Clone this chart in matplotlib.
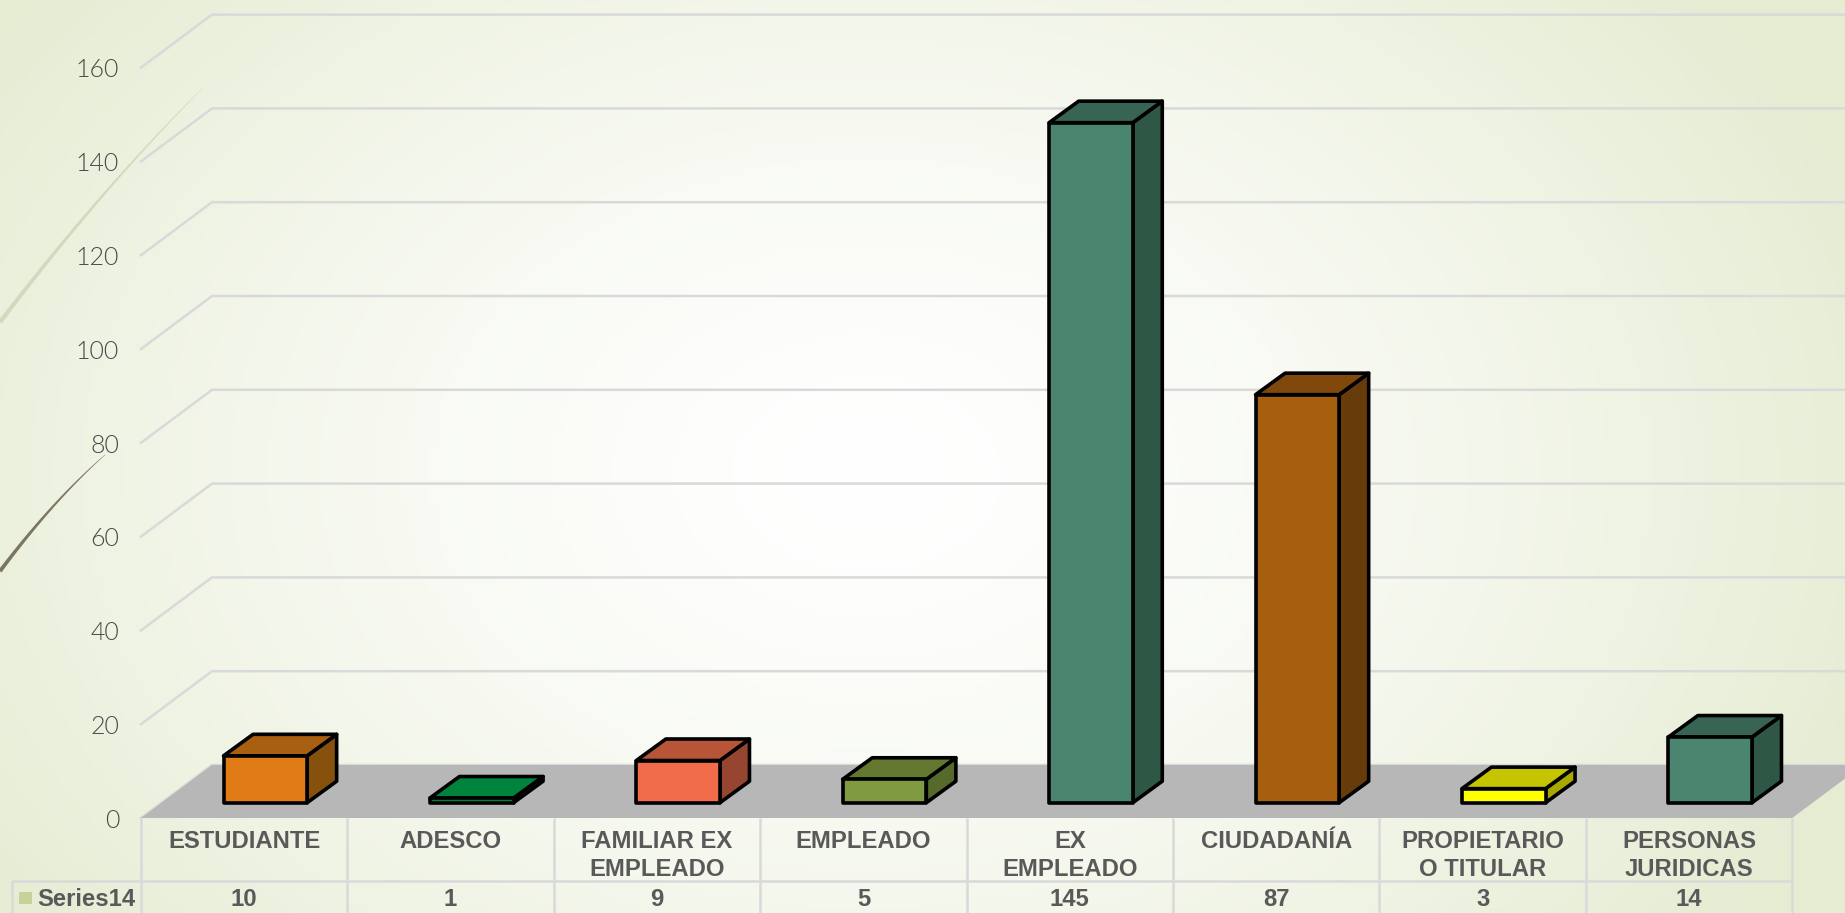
import matplotlib
matplotlib.use("Agg")
import matplotlib.pyplot as plt
import numpy as np

categories = ["ESTUDIANTE", "ADESCO", "FAMILIAR EX\nEMPLEADO", "EMPLEADO", "EX\nEMPLEADO",
              "CIUDADANÍA", "PROPIETARIO\nO TITULAR", "PERSONAS\nJURIDICAS"]
values = [10, 1, 9, 5, 145, 87, 3, 14]
y_ticks = [0, 20, 40, 60, 80, 100, 120, 140, 160]
series_name = "Series14"

front_colors = ["#E17B16", "#00843D", "#F06C4A", "#7F9A40", "#4A8570", "#A65F0F", "#FFFF00", "#4A8570"]
top_colors = ["#A85F0F", "#00843D", "#B85438", "#64772F", "#386553", "#80490B", "#C4C400", "#386553"]
side_colors = ["#86500D", "#006B30", "#964630", "#566A2B", "#2F5745", "#683C0A", "#A8A800", "#2F5745"]

W, H = 1845, 913
X0, Y0 = 141, 818      # pixel of the chart origin
CAT_W = 206.4          # pixels per category
UNIT = 4.69            # pixels per value unit

fig = plt.figure(figsize=(W / 100, H / 100), dpi=100)
ax = fig.add_axes([0, 0, 1, 1])
ax.set_xlim(-X0 / CAT_W, (W - X0) / CAT_W)
ax.set_ylim(-(H - Y0) / UNIT, Y0 / UNIT)
ax.axis("off")


def py(p):
    # pixel row to value units
    return (Y0 - p) / UNIT


def px(p):
    return (p - X0) / CAT_W


# background
xx, yy = np.meshgrid(np.linspace(0, 1, 400), np.linspace(0, 1, 200))
r = np.sqrt(((xx - 0.47) / 0.58) ** 2 + ((yy - 0.52) / 0.85) ** 2)
r = np.clip(r, 0, 1)[..., None]
edge = np.array([0xE5, 0xEC, 0xD2]) / 255
bg = 1 + (edge - 1) * r ** 1.5
ax.imshow(bg, extent=[ax.get_xlim()[0], ax.get_xlim()[1], ax.get_ylim()[0], ax.get_ylim()[1]],
          aspect="auto", zorder=0)


def swoosh(points, w0, color):
    pts = np.array(points, dtype=float)
    coef = np.polyfit(pts[:, 0], pts[:, 1], 2)
    xs = np.linspace(pts[0, 0], pts[-1, 0], 80)
    ys = np.polyval(coef, xs)
    tt = np.linspace(0, 1, 80)
    half = w0 * (1 - tt) + 0.2
    ax.fill(px(np.r_[xs - half * 0.7, (xs + half * 0.7)[::-1]]),
            py(np.r_[ys - half * 0.7, (ys + half * 0.7)[::-1]]),
            color=color, lw=0, zorder=1)


swoosh([(0, 322), (67, 238), (133, 161), (203, 88)], 2.0, "#D3D8BE")
swoosh([(0, 571), (33, 530), (67, 491), (105, 455)], 1.8, "#7B7660")

# walls
DX = 71 / CAT_W
DY = 53 / UNIT
n = len(categories)
for t in y_ticks:
    ax.plot([0, DX, n + 2], [t, t + DY, t + DY], color="#D9D9D9", lw=1.8, zorder=2,
            solid_joinstyle="round")
    ax.text(px(119), t - 0.6, str(t), ha="right", va="center", family="Lato", weight=300,
            fontsize=18, color="#4A4A4A", zorder=6)

# floor
ax.fill([0, n, n + DX, DX], [0, 0, DY, DY], color="#B7B7B7", lw=0, zorder=3)

# bars
BAR_LEFT = 0.40
BAR_W = 0.405
BASE = 3.26
BDX = 0.143
BDY = 21.5 / UNIT
for i, v in enumerate(values):
    x1 = i + BAR_LEFT
    x2 = x1 + BAR_W
    y1 = BASE
    y2 = BASE + v
    style = dict(ec="black", lw=2.6, joinstyle="round", zorder=4)
    ax.fill([x2, x2 + BDX, x2 + BDX, x2], [y1, y1 + BDY, y2 + BDY, y2], fc=side_colors[i], **style)
    ax.fill([x1, x1 + BDX, x2 + BDX, x2], [y2, y2 + BDY, y2 + BDY, y2], fc=top_colors[i], **style)
    ax.fill([x1, x2, x2, x1], [y1, y1, y2, y2], fc=front_colors[i], **style)

# data table
line_kw = dict(color="#D9D9D9", lw=1.8, zorder=3, solid_capstyle="butt")
ax.plot([0, 0], [0, py(H)], **line_kw)
ax.plot([px(12), n], [py(881), py(881)], **line_kw)
ax.plot([px(12), px(12)], [py(881), py(H)], **line_kw)
for i in range(1, n + 1):
    ax.plot([i, i], [0, py(H)], **line_kw)

txt_kw = dict(family="Liberation Sans", weight="bold", fontsize=17.2, color="#595959",
              va="baseline", ha="center", zorder=6)
for i, c in enumerate(categories):
    for j, part in enumerate(c.split("\n")):
        ax.text(i + 0.5, py(848 + 28 * j), part, **txt_kw)
    ax.text(i + 0.5, py(906), str(values[i]), **txt_kw)

ax.fill([px(19), px(32), px(32), px(19)], [py(892), py(892), py(904), py(904)],
        color="#C5D39A", lw=0, zorder=5)
ax.text(px(37), py(906), series_name, **{**txt_kw, "ha": "left"})

fig.savefig("out.png", dpi=100)
